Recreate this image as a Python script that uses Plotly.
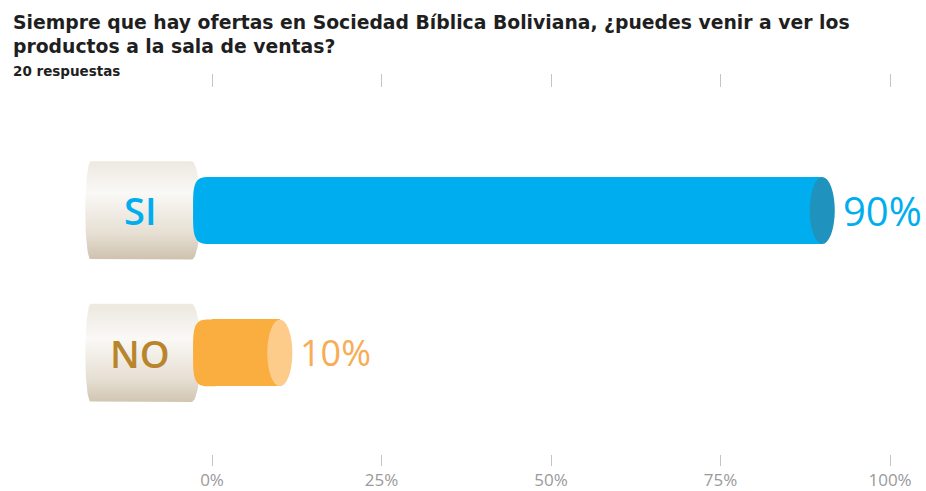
import numpy as np
import plotly.graph_objects as go

# ---------------- data ----------------
categories = ["SI", "NO"]
values = [90, 10]
tick_vals = [0, 25, 50, 75, 100]
tick_text = ["0%", "25%", "50%", "75%", "100%"]
title_text = ("Siempre que hay ofertas en Sociedad Bíblica Boliviana, ¿puedes venir a ver los"
              "<br>productos a la sala de ventas?")
subtitle_text = "20 respuestas"

# ---------------- styles ----------------
bar_colors = ["#00AEEF", "#FBAE40"]
cap_colors = ["#1F93BE", "#FDCB8A"]
label_colors = ["#00AEEF", "#B9852C"]
value_colors = ["#00AEEF", "#F8AC55"]
value_sizes = [40, 36]
FONT = "Open Sans"
TFONT = "DejaVu Sans"

W, H = 926, 491
MT, MB = 88, 29
PH = H - MT - MB
x_range = [-31.27, 105.3]
y_pos = list(range(len(categories)))
y_range = [1.71, -0.86]
bar_w = 0.47
half = bar_w / 2
cap_rx = 1.85
left_rx = 2.8


def py2paper(py):
    return 1 + (MT - py) / PH


fig = go.Figure()

# label "cylinders" (beige boxes) with vertical gradient
box_half = 0.345
for i, cat in enumerate(categories):
    yc = y_pos[i]
    t = np.linspace(-np.pi / 2, np.pi / 2, 40)
    xr = -3.0 + 1.3 * np.cos(t)
    yr = yc + box_half * np.sin(t)
    xl = -17.9 - 0.8 * np.cos(t[::-1])
    yl = yc + box_half * np.sin(t[::-1])
    xs = np.concatenate([xr, xl, xr[:1]])
    ys = np.concatenate([yr, yl, yr[:1]])
    fig.add_trace(go.Scatter(
        x=xs, y=ys, mode="lines", fill="toself", line=dict(width=0),
        fillgradient=dict(type="vertical", start=yc - box_half, stop=yc + box_half,
                          colorscale=[[0, "#EEEAE2"], [0.3, "#FAF9F6"], [0.7, "#E6DFD3"], [1, "#CBBEA9"]]),
        hoverinfo="skip", showlegend=False))
    fig.add_annotation(x=-10.6, y=yc, text=cat, showarrow=False, xref="x", yref="y",
                       font=dict(family=FONT, size=38, color=label_colors[i], weight=600))

# bars
fig.add_trace(go.Bar(
    x=values, y=y_pos, orientation="h", width=bar_w,
    marker=dict(color=bar_colors, line=dict(width=0)),
    hoverinfo="skip", showlegend=False))

shapes = []
for i, v in enumerate(values):
    yc = y_pos[i]
    # rounded left end of the cylinder
    t = np.linspace(-np.pi / 2, np.pi / 2, 40)
    c = np.cos(t)
    s = np.sin(t)
    px = -left_rx * np.abs(c) ** 0.5
    py = yc + half * np.sign(s) * np.abs(s) ** 0.5
    pts = list(zip(np.concatenate([[0.5], px, [0.5]]),
                   np.concatenate([[yc - half], py, [yc + half]])))
    path = "M " + " L ".join(f"{a:.4f},{b:.4f}" for a, b in pts) + " Z"
    shapes.append(dict(type="path", path=path, xref="x", yref="y",
                       fillcolor=bar_colors[i], line=dict(width=0), layer="above"))
    # end cap ellipse
    shapes.append(dict(type="circle", x0=v - cap_rx, x1=v + cap_rx, y0=yc - half, y1=yc + half,
                       xref="x", yref="y", fillcolor=cap_colors[i], line=dict(width=0),
                       layer="above"))
    fig.add_annotation(x=v + cap_rx + 0.9, y=yc, text=f"{v}%", showarrow=False,
                       xref="x", yref="y", xanchor="left",
                       font=dict(family=FONT, size=value_sizes[i], color=value_colors[i], weight=500))

fig.update_layout(
    width=W, height=H,
    margin=dict(l=0, r=0, t=MT, b=MB, pad=0),
    paper_bgcolor="white", plot_bgcolor="white",
    barmode="overlay", bargap=0,
    shapes=shapes,
    xaxis=dict(range=x_range, tickvals=tick_vals, ticktext=tick_text, showgrid=False,
               zeroline=False, showline=False, ticks="outside", ticklen=11, tickwidth=1,
               tickcolor="#C4C4C4", tickfont=dict(family=FONT, size=17, color="#9A9A9A", weight=500),
               fixedrange=True),
    xaxis2=dict(range=x_range, tickvals=tick_vals, showticklabels=False, overlaying="x",
                side="top", showgrid=False, zeroline=False, showline=False, ticks="outside",
                ticklen=13, tickwidth=1, tickcolor="#C4C4C4", fixedrange=True),
    yaxis=dict(range=y_range, showgrid=False, zeroline=False, showline=False,
               showticklabels=False, fixedrange=True),
    font=dict(family=FONT),
)
fig.add_trace(go.Scatter(x=[0], y=[0], xaxis="x2", mode="markers", marker=dict(opacity=0),
                         hoverinfo="skip", showlegend=False))

fig.add_annotation(text=title_text, xref="paper", yref="paper", x=11 / W, xanchor="left",
                   y=py2paper(8), yanchor="top", showarrow=False, align="left",
                   font=dict(family=TFONT, size=18.8, color="#1F1F1F", weight=700))
fig.add_annotation(text=subtitle_text, xref="paper", yref="paper", x=11 / W, xanchor="left",
                   y=py2paper(71), yanchor="middle", showarrow=False,
                   font=dict(family=TFONT, size=13.5, color="#1F1F1F", weight=700))

fig.write_html("out.html")
